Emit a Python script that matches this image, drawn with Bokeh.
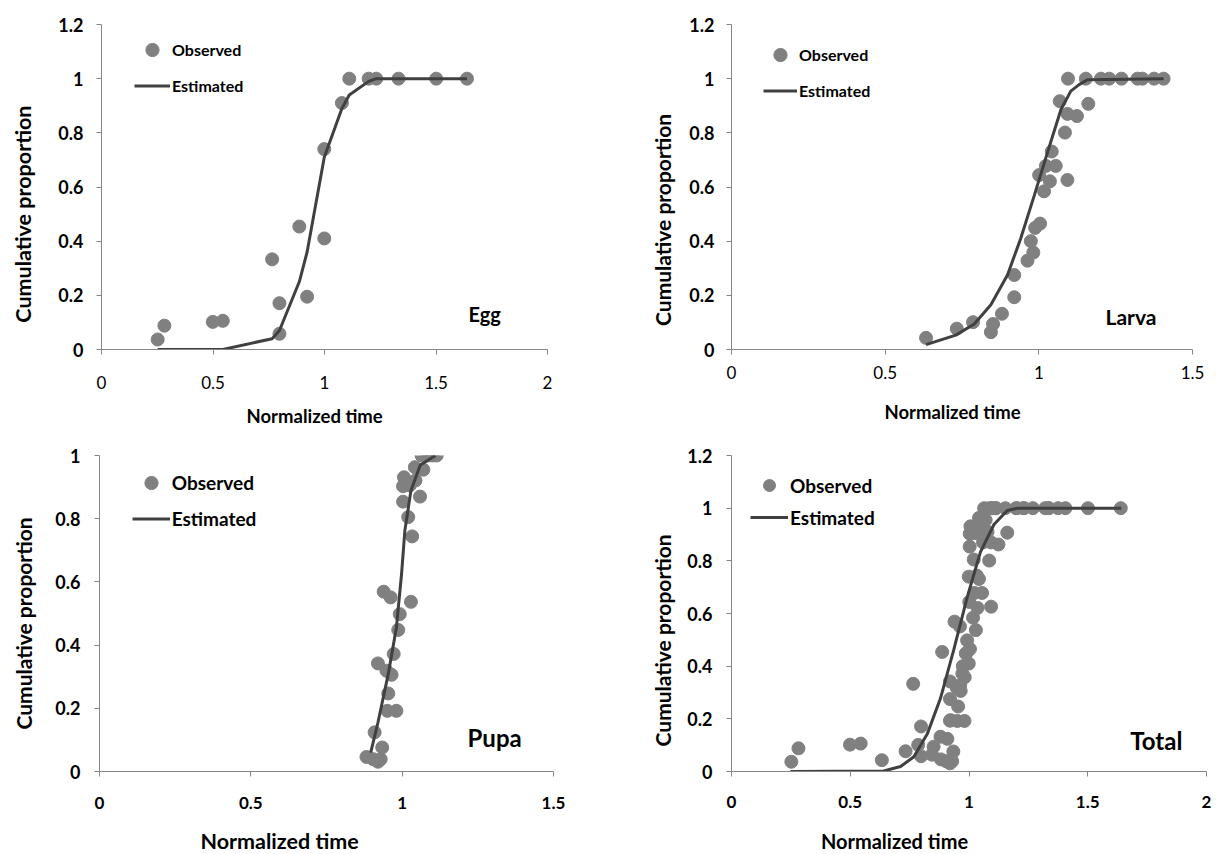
from math import pi
from bokeh.plotting import figure
from bokeh.layouts import column, row
from bokeh.models import (Legend, LegendItem, Label, FixedTicker,
                          CustomJSTickFormatter, Range1d)
from bokeh.embed import file_html
from bokeh.resources import INLINE

# ---------------- data ----------------
egg_x = [0.252, 0.282, 0.499, 0.544, 0.765, 0.798, 0.798, 0.887, 0.922,
         0.999, 0.999, 1.078, 1.111, 1.198, 1.232, 1.332, 1.501, 1.639]
egg_y = [0.037, 0.088, 0.102, 0.106, 0.333, 0.171, 0.058, 0.454, 0.195,
         0.740, 0.410, 0.910, 1.0, 1.0, 1.0, 1.0, 1.0, 1.0]
egg_est_x = [0.252, 0.282, 0.499, 0.544, 0.765, 0.798, 0.887, 0.922, 0.999,
             1.078, 1.111, 1.198, 1.232, 1.332, 1.501, 1.639]
egg_est_y = [0.0, 0.0, 0.0, 0.0, 0.04, 0.07, 0.25, 0.36, 0.71,
             0.89, 0.94, 0.99, 1.0, 1.0, 1.0, 1.0]

larva_x = [0.633, 0.733, 0.786, 0.844, 0.851, 0.880, 0.920, 0.920, 0.963,
           0.974, 0.982, 0.988, 1.004, 1.001, 1.017, 1.023, 1.036, 1.042,
           1.055, 1.068, 1.085, 1.093, 1.093, 1.095, 1.124, 1.153, 1.161,
           1.202, 1.229, 1.269, 1.321, 1.337, 1.375, 1.406]
larva_y = [0.043, 0.077, 0.101, 0.064, 0.094, 0.132, 0.193, 0.275, 0.328,
           0.400, 0.358, 0.449, 0.465, 0.644, 0.584, 0.678, 0.621, 0.731,
           0.678, 0.917, 0.801, 0.870, 0.626, 1.0, 0.862, 1.0, 0.907,
           1.0, 1.0, 1.0, 1.0, 1.0, 1.0, 1.0]
larva_est_x = [0.633, 0.730, 0.790, 0.844, 0.898, 0.941, 0.985, 1.028,
               1.072, 1.104, 1.131, 1.158, 1.406]
larva_est_y = [0.018, 0.053, 0.094, 0.165, 0.275, 0.410, 0.568, 0.727,
               0.886, 0.954, 0.978, 0.996, 1.0]

pupa_x = [0.882, 0.904, 0.920, 0.929, 0.934, 0.909, 0.951, 0.981, 0.954,
          0.920, 0.948, 0.965, 0.972, 0.987, 0.992, 0.939, 0.962, 1.029,
          1.033, 1.020, 1.003, 1.059, 1.003, 1.006, 1.025, 1.044, 1.042,
          1.070, 1.064, 1.086, 1.100, 1.114]
pupa_y = [0.046, 0.039, 0.031, 0.039, 0.076, 0.124, 0.192, 0.192, 0.247,
          0.342, 0.319, 0.306, 0.372, 0.448, 0.498, 0.569, 0.551, 0.537,
          0.744, 0.805, 0.854, 0.870, 0.903, 0.931, 0.905, 0.921, 0.963,
          0.955, 1.0, 1.0, 1.0, 1.0]
pupa_est_x = [0.896, 0.920, 0.954, 0.981, 0.998, 1.009, 1.029, 1.060, 1.110]
pupa_est_y = [0.060, 0.155, 0.308, 0.456, 0.625, 0.763, 0.889, 0.970, 1.0]

# Total = all observations of the three stages
total_x = egg_x + larva_x + pupa_x
total_y = egg_y + larva_y + pupa_y
total_est_x = [0.248, 0.641, 0.712, 0.768, 0.824, 0.880, 0.936, 0.992,
               1.048, 1.105, 1.161, 1.203, 1.641]
total_est_y = [0.0, 0.002, 0.019, 0.056, 0.142, 0.278, 0.463, 0.660,
               0.833, 0.938, 0.991, 1.0, 1.0]

x_ticks_2 = [0, 0.5, 1, 1.5, 2]
x_ticks_15 = [0, 0.5, 1, 1.5]
y_ticks_12 = [0, 0.2, 0.4, 0.6, 0.8, 1.0, 1.2]
y_ticks_10 = [0, 0.2, 0.4, 0.6, 0.8, 1.0]

X_TITLE = "Normalized time"
Y_TITLE = "Cumulative proportion"

# ---------------- styling ----------------
FONT = "Lato"
AXIS_GRAY = "#868686"
DOT = "#808080"
LINE = "#404040"
fmt_code = "return String(Math.round(tick*10)/10);"


def base_fig(W, H, **kw):
    return figure(width=W, height=H, output_backend="svg",
                  toolbar_location=None, outline_line_color=None,
                  background_fill_color="white", border_fill_color="white",
                  **kw)


def text_fig(W, H, labels):
    """Plain figure holding only axis-title texts (pixel-like coords)."""
    f = base_fig(W, H, x_range=Range1d(0, W), y_range=Range1d(0, H),
                 x_axis_type=None, y_axis_type=None, min_border=0)
    f.grid.visible = False
    for x, y, text, size, angle, align in labels:
        f.add_layout(Label(x=x, y=y, text=text, angle=angle,
                           text_font=FONT, text_font_style="bold",
                           text_font_size=size, text_align=align,
                           text_baseline="middle", text_color="black"))
    return f


def panel(ox, oy, ex, ey, xmax, ymax, xticks, yticks, W, H, borders,
          fs, leg, name):
    left, right, top, bottom = borders
    p = base_fig(W, H, x_range=Range1d(0, xmax), y_range=Range1d(0, ymax),
                 min_border_left=left, min_border_right=right,
                 min_border_top=top, min_border_bottom=bottom)
    p.xgrid.visible = False
    p.ygrid.visible = False
    for ax, ticks in ((p.xaxis, xticks), (p.yaxis, yticks)):
        ax.ticker = FixedTicker(ticks=ticks)
        ax.formatter = CustomJSTickFormatter(code=fmt_code)
        ax.axis_line_color = AXIS_GRAY
        ax.major_tick_line_color = AXIS_GRAY
        ax.minor_tick_line_color = None
        ax.major_tick_out = 5
        ax.major_tick_in = 0
        ax.major_label_text_font = FONT
        ax.major_label_text_color = "black"
    p.yaxis.major_label_text_font_size = fs["ytick"]
    p.yaxis.major_label_text_font_style = "bold"
    p.yaxis.major_label_standoff = fs["ystand"]
    p.xaxis.major_label_text_font_size = fs["xtick"]
    p.xaxis.major_label_text_font_style = fs["xstyle"]
    p.xaxis.major_label_standoff = fs["xstand"]

    r_obs = p.scatter(ox, oy, size=13, marker="circle", fill_color=DOT,
                      line_color=DOT)
    r_est = p.line(ex, ey, line_width=3, line_color=LINE)

    legend = Legend(items=[LegendItem(label="Observed", renderers=[r_obs]),
                           LegendItem(label="Estimated", renderers=[r_est])],
                    location=leg["loc"], padding=0, margin=0,
                    spacing=leg["spacing"], glyph_width=leg["gw"],
                    glyph_height=leg["gh"], label_height=leg["gh"],
                    label_standoff=2, border_line_color=None,
                    background_fill_alpha=0,
                    label_text_font=FONT, label_text_font_style="bold",
                    label_text_font_size=leg["fs"],
                    label_text_color="black")
    p.add_layout(legend, "center")

    nx, ny, ntext, nfs = name
    p.add_layout(Label(x=nx, y=ny, text=ntext, text_font=FONT,
                       text_font_style="bold", text_font_size=nfs,
                       text_align="left", text_baseline="middle",
                       text_color="black"))
    return p


fs_small = dict(ytick="18px", xtick="17px", xstyle="normal", ystand=13,
                xstand=21)
fs_big = dict(ytick="18px", xtick="17px", xstyle="bold", ystand=14,
              xstand=20)

# ---- row 1 (plots 400 px high, then a 32 px strip for x titles)
p_egg = panel(egg_x, egg_y, egg_est_x, egg_est_y, 2, 1.2, x_ticks_2,
              y_ticks_12, 595, 400, (56, 93, 17, 51),
              dict(fs_small),
              dict(loc=(33, 247.5), spacing=3, gw=36, gh=33, fs="16px"),
              (1.646, 0.130, "Egg", "20px"))
p_larva = panel(larva_x, larva_y, larva_est_x, larva_est_y, 1.5, 1.2,
                x_ticks_15, y_ticks_12, 535, 400, (51, 23, 24, 48),
                dict(fs_small, ystand=12, xstand=11),
                dict(loc=(32, 242), spacing=3, gw=34, gh=33, fs="16px"),
                (1.217, 0.123, "Larva", "21px"))
yt_egg = text_fig(45, 400, [(22.7, 33, Y_TITLE, "21.5px", pi / 2, "left")])
yt_larva = text_fig(40, 400, [(21.7, 29, Y_TITLE, "21px", pi / 2, "left")])
xt_row1 = text_fig(1215, 32, [(246, 17, X_TITLE, "18.5px", 0, "left"),
                              (952, 21, X_TITLE, "18.5px", 0, "center")])

# ---- row 2 (plots 391 px high, then a 30 px strip for x titles)
p_pupa = panel(pupa_x, pupa_y, pupa_est_x, pupa_est_y, 1.5, 1.0,
               x_ticks_15, y_ticks_10, 595, 391, (54, 87, 23, 52),
               dict(fs_big),
               dict(loc=(32.7, 235.8), spacing=3, gw=38, gh=33, fs="19px"),
               (1.216, 0.109, "Pupa", "24px"))
p_total = panel(total_x, total_y, total_est_x, total_est_y, 2, 1.2,
                x_ticks_2, y_ticks_12, 535, 391, (51, 9, 15, 51),
                dict(fs_big, xstand=19),
                dict(loc=(19, 239), spacing=2, gw=38, gh=30, fs="19px"),
                (1.679, 0.118, "Total", "24px"))
yt_pupa = text_fig(45, 391, [(22.7, 52, Y_TITLE, "21px", pi / 2, "left")])
yt_total = text_fig(40, 391, [(21.7, 31, Y_TITLE, "21px", pi / 2, "left")])
xt_row2 = text_fig(1215, 30, [(200, 13, X_TITLE, "21.5px", 0, "left"),
                              (894, 13, X_TITLE, "20px", 0, "center")])

layout = column(row(yt_egg, p_egg, yt_larva, p_larva),
                xt_row1,
                row(yt_pupa, p_pupa, yt_total, p_total),
                xt_row2)

with open("out.html", "w") as f:
    f.write(file_html(layout, INLINE))
